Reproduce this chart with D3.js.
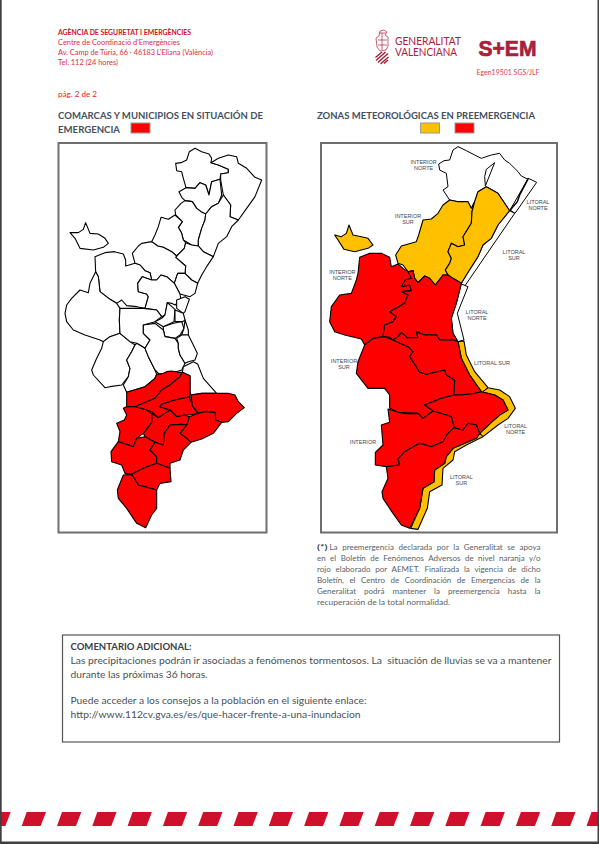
<!DOCTYPE html>
<html>
<head>
<meta charset="utf-8">
<script src="https://cdn.jsdelivr.net/npm/d3@7"></script>
<style>
html, body { margin: 0; padding: 0; background: #fff; }
svg { display: block; }
text { font-family: Lato, "Open Sans", sans-serif; }
</style>
</head>
<body>
<svg id="page"></svg>
<script>
// header texts
var agencyLines = ["AGÈNCIA DE SEGURETAT I EMERGÈNCIES", "Centre de Coordinació d'Emergències",
    "Av. Camp de Túria, 66 · 46183 L'Eliana (València)", "Tel. 112 (24 hores)"];
var pageLabel = "pág. 2 de 2";
var docCode = "Egen19501 SGS/JLF";
var logoLines = ["GENERALITAT", "VALENCIANA"];
var titleLeft = ["COMARCAS Y MUNICIPIOS EN SITUACIÓN DE", "EMERGENCIA"];
var titleRight = "ZONAS METEOROLÓGICAS EN PREEMERGENCIA";
var noteLines = ["La preemergencia declarada por la Generalitat se apoya",
    "en el Boletín de Fenómenos Adversos de nivel naranja y/o",
    "rojo elaborado por AEMET. Finalizada la vigencia de dicho",
    "Boletín, el Centro de Coordinación de Emergencias de la",
    "Generalitat podrá mantener la preemergencia hasta la",
    "recuperación de la total normalidad."];
var commentTitle = "COMENTARIO ADICIONAL:";
var commentLines = ["Las precipitaciones podrán ir asociadas a fenómenos tormentosos. La  situación de lluvias se va a mantener",
    "durante las próximas 36 horas.", "",
    "Puede acceder a los consejos a la población en el siguiente enlace:",
    "http://www.112cv.gva.es/es/que-hacer-frente-a-una-inundacion"];
var stripeIndex = d3.range(-1, 17);

// comarcas in map units (one unit is a third of a page pixel)
var comarcasWhite = [
  [[362,70],[378,68],[395,60],[403,35],[420,25],[440,35],[462,42],[470,55],[468,68],[490,75],[520,88],[520,98],[497,102],[495,118],[470,125],[462,165],[452,135],[435,128],[420,145],[393,143],[385,115],[380,95],[365,92]],
  [[468,68],[490,55],[520,45],[545,50],[550,70],[575,85],[600,112],[620,120],[600,170],[575,205],[550,240],[525,230],[527,195],[505,165],[497,120],[497,102],[520,98],[520,88],[490,75]],
  [[372,155],[393,143],[420,145],[435,128],[452,135],[462,165],[470,125],[495,118],[500,165],[490,190],[470,200],[452,222],[438,215],[425,205],[412,185],[390,182],[380,172]],
  [[360,210],[378,190],[390,182],[412,185],[425,205],[438,215],[452,222],[450,240],[440,265],[430,300],[430,318],[410,315],[385,300],[380,280],[370,262],[382,245],[362,225]],
  [[452,222],[470,200],[490,190],[505,165],[527,195],[525,230],[550,240],[530,260],[515,290],[490,310],[475,350],[445,335],[430,318],[430,300],[440,265],[450,240]],
  [[318,232],[340,238],[360,225],[382,245],[370,262],[380,280],[385,300],[392,308],[388,325],[365,348],[350,335],[325,322],[308,318],[290,305],[300,285],[310,260]],
  [[392,308],[410,315],[430,318],[445,335],[475,350],[455,380],[440,405],[428,430],[410,420],[390,400],[392,378],[362,352],[365,348],[388,325]],
  [[232,340],[250,318],[260,310],[290,305],[308,318],[325,322],[350,335],[365,348],[362,352],[392,378],[390,400],[368,400],[358,430],[335,410],[318,405],[305,420],[290,420],[285,398],[270,392],[255,375],[240,370]],
  [[390,400],[410,420],[428,430],[420,460],[405,470],[375,462],[358,430],[368,400]],
  [[45,278],[70,278],[85,268],[92,248],[105,280],[130,282],[150,295],[160,310],[145,322],[115,330],[75,325],[60,295]],
  [[120,350],[150,338],[178,335],[205,342],[212,360],[212,378],[240,370],[255,375],[270,392],[285,398],[290,420],[262,410],[248,430],[250,455],[275,462],[280,470],[270,505],[245,500],[215,497],[200,480],[185,490],[165,478],[135,455],[130,410],[122,395]],
  [[248,430],[262,410],[290,420],[305,420],[318,405],[335,410],[358,430],[375,462],[378,480],[360,495],[350,490],[337,488],[330,525],[320,530],[305,510],[270,505],[280,470],[275,462],[250,455]],
  [[122,395],[130,410],[135,455],[165,478],[185,490],[195,505],[193,540],[195,580],[165,590],[145,605],[135,600],[90,585],[55,570],[35,545],[30,520],[35,495],[50,475],[75,450],[100,458],[105,430]],
  [[145,605],[165,590],[195,580],[225,605],[240,615],[230,635],[215,660],[225,685],[220,710],[200,735],[165,740],[150,743],[115,705],[110,690],[125,655],[140,625]],
  [[195,505],[265,505],[305,510],[320,530],[300,545],[265,555],[265,580],[285,600],[270,625],[245,610],[225,605],[195,580],[193,540]],
  [[240,615],[245,610],[270,625],[280,650],[300,690],[305,703],[300,715],[270,740],[215,757],[205,735],[220,710],[225,685],[215,660],[230,635]],
  [[365,480],[390,470],[403,478],[390,515],[385,520],[365,505]],
  [[300,545],[320,535],[330,525],[337,488],[360,508],[357,545],[325,560]],
  [[360,510],[385,520],[390,540],[383,545],[360,545]],
  [[325,560],[355,550],[380,545],[387,565],[375,585],[360,595],[330,590],[325,570]],
  [[285,600],[265,580],[265,555],[300,550],[325,570],[330,590],[360,595],[370,610],[370,625],[375,645],[390,670],[385,680],[380,690],[350,700],[315,705],[300,690],[280,650],[270,625]],
  [[390,540],[400,570],[400,585],[380,585],[387,565]],
  [[365,595],[380,585],[400,585],[415,615],[427,640],[420,660],[400,665],[390,670],[375,645],[370,625],[370,610]],
  [[382,697],[385,680],[415,665],[428,672],[445,715],[485,760],[440,760],[408,765],[405,755],[405,707]]
];
var comarcasRed = [
  [[215,757],[270,740],[300,715],[305,703],[325,700],[335,695],[350,693],[370,697],[382,697],[375,710],[345,735],[320,750],[300,775],[240,800],[215,800]],
  [[382,697],[405,707],[405,755],[405,770],[360,780],[320,793],[315,800],[345,810],[330,820],[310,833],[290,815],[275,810],[240,800],[300,775],[320,750],[345,735],[375,710]],
  [[320,793],[360,780],[405,770],[405,775],[412,797],[428,820],[405,825],[390,825],[365,830],[345,810],[315,800]],
  [[408,765],[440,760],[485,760],[520,760],[540,765],[550,785],[568,803],[545,820],[520,845],[500,847],[482,840],[480,817],[450,815],[430,820],[412,797]],
  [[430,820],[450,815],[480,817],[482,840],[500,847],[475,880],[440,897],[408,907],[395,895],[375,880],[395,855],[403,830]],
  [[275,810],[290,820],[290,847],[265,880],[270,890],[300,907],[325,915],[328,880],[345,855],[380,853],[395,855],[403,830],[390,825],[365,830],[345,810],[330,820],[310,833]],
  [[240,800],[275,810],[290,820],[290,847],[265,880],[245,895],[235,920],[205,910],[190,905],[195,875],[185,850],[208,840],[215,825],[205,805],[215,800]],
  [[190,905],[235,920],[245,895],[270,890],[300,907],[285,930],[305,950],[305,970],[265,985],[230,1003],[210,1000],[200,975],[170,965],[168,935]],
  [[300,907],[325,915],[328,880],[345,855],[380,853],[395,855],[375,880],[395,895],[408,907],[385,930],[375,960],[345,970],[345,985],[305,970],[305,950],[285,930]],
  [[230,1003],[265,985],[305,970],[345,985],[348,1025],[315,1030],[305,1050],[280,1043],[250,1035]],
  [[205,1005],[230,1003],[250,1035],[280,1043],[305,1050],[305,1105],[290,1125],[272,1163],[245,1150],[215,1105],[190,1075],[187,1050]]
];

// meteorological zones in map units
var zonesWhite = [
  [[362,72],[378,62],[395,60],[405,30],[420,20],[445,32],[470,45],[490,55],[520,45],[545,40],[560,60],[575,70],[600,95],[610,108],[630,118],[620,140],[600,185],[580,215],[575,212],[540,160],[505,140],[480,155],[470,185],[460,205],[450,185],[420,185],[395,180],[375,150],[390,140],[385,100],[365,90]],
  [[631,115],[656,127],[591,220],[576,210]],
  [[575,212],[590,220],[437,443],[430,430],[445,405],[480,350],[495,315],[520,295],[540,255]],
  [[430,432],[450,440],[418,520],[438,600],[420,605],[405,580],[400,535],[415,490]]
];
var zonesOrange = [
  [[50,285],[70,290],[85,280],[93,255],[105,285],[130,290],[150,295],[165,315],[150,325],[110,335],[78,328],[60,300]],
  [[233,345],[250,318],[295,305],[302,285],[315,240],[340,237],[360,220],[375,195],[395,180],[420,185],[450,185],[460,205],[470,185],[462,215],[460,250],[435,290],[440,315],[420,320],[400,310],[390,335],[400,355],[395,370],[382,390],[390,405],[375,405],[352,435],[335,415],[320,408],[300,428],[290,415],[285,392],[270,395],[255,375],[240,370]],
  [[470,185],[480,155],[505,140],[540,160],[575,212],[540,255],[520,295],[495,315],[480,350],[445,405],[430,430],[405,415],[390,405],[382,390],[395,370],[400,355],[390,335],[400,310],[420,320],[440,315],[435,290],[460,250],[462,215]],
  [[420,605],[438,603],[445,645],[470,695],[510,743],[545,750],[575,770],[592,805],[570,835],[540,855],[495,890],[475,900],[445,915],[410,935],[405,960],[375,985],[372,1035],[335,1055],[328,1105],[300,1168],[278,1165],[305,1105],[315,1045],[348,1025],[350,990],[380,970],[385,950],[405,925],[440,910],[475,895],[485,880],[520,847],[545,825],[570,810],[555,780],[530,765],[490,755],[455,705],[430,655]]
];
var zonesRed = [
  [[125,352],[155,340],[190,340],[215,352],[220,380],[240,372],[255,385],[270,395],[285,392],[280,415],[262,420],[250,440],[275,435],[280,452],[252,455],[270,465],[260,490],[225,510],[215,515],[235,530],[225,545],[200,555],[195,590],[165,595],[140,615],[130,597],[80,585],[50,575],[35,545],[40,500],[65,465],[100,460],[115,420],[120,400]],
  [[270,395],[285,392],[290,415],[300,428],[320,408],[335,415],[352,435],[375,405],[390,405],[405,415],[430,430],[415,490],[400,535],[405,580],[420,605],[405,600],[365,600],[355,585],[320,585],[295,575],[300,593],[265,593],[265,590],[250,578],[240,590],[225,600],[215,592],[195,590],[200,555],[225,545],[235,530],[215,515],[225,510],[260,490],[270,465],[252,455],[280,452],[275,435],[250,440],[262,420],[280,415]],
  [[140,615],[120,665],[115,700],[150,745],[200,745],[215,765],[215,805],[240,817],[300,820],[315,835],[345,813],[320,795],[370,775],[408,765],[410,720],[385,705],[380,690],[365,693],[325,703],[305,697],[295,680],[275,650],[285,635],[270,620],[225,600],[200,590],[165,595]],
  [[225,600],[240,590],[250,578],[265,590],[265,593],[300,593],[295,575],[320,585],[355,585],[365,600],[405,600],[420,605],[430,655],[455,705],[490,755],[470,760],[430,765],[408,765],[410,720],[385,705],[380,690],[365,693],[325,703],[305,697],[295,680],[275,650],[285,635],[270,620]],
  [[320,795],[370,775],[408,765],[430,765],[470,760],[490,755],[530,765],[555,780],[570,810],[545,825],[520,847],[485,880],[475,855],[450,850],[435,870],[410,865],[400,830],[385,825],[345,813]],
  [[210,807],[240,817],[262,821],[300,820],[315,835],[345,813],[385,825],[400,830],[408,863],[390,880],[375,905],[340,920],[305,910],[260,935],[240,957],[245,975],[205,980],[172,975],[172,937],[195,915],[190,855],[215,847]],
  [[205,980],[245,975],[240,957],[260,935],[305,910],[340,920],[375,905],[390,880],[408,863],[435,870],[450,850],[475,855],[485,880],[475,895],[440,910],[405,925],[385,950],[380,970],[350,990],[348,1025],[315,1045],[305,1105],[275,1165],[250,1155],[225,1120],[195,1075],[192,1055],[210,1015]]
];
var zoneDividers = [
  [[495,755],[510,743]],
  [[485,880],[495,890]],
  [[530,68],[505,88],[500,110],[502,138]]
];
var northCoast = [[631,115],[618,140],[605,165],[598,185],[585,200],[576,212]];
var zoneLabels = [
  {lines: ["INTERIOR", "NORTE"], at: [317, 75]},
  {lines: ["INTERIOR", "SUR"], at: [270, 238]},
  {lines: ["INTERIOR", "NORTE"], at: [73, 405]},
  {lines: ["LITORAL", "NORTE"], at: [660, 195]},
  {lines: ["LITORAL", "SUR"], at: [588, 345]},
  {lines: ["LITORAL", "NORTE"], at: [477, 525]},
  {lines: ["LITORAL SUR"], at: [522, 670]},
  {lines: ["INTERIOR", "SUR"], at: [78, 672]},
  {lines: ["INTERIOR"], at: [135, 906]},
  {lines: ["LITORAL", "NORTE"], at: [593, 868]},
  {lines: ["LITORAL", "SUR"], at: [430, 1021]}
];

var RED = "#fe0000", ORANGE = "#ffc000", INK = "#44505f", BRAND = "#a8203a";

var svg = d3.select("#page").attr("width", 599).attr("height", 844);
svg.append("rect").attr("width", 599).attr("height", 844).attr("fill", "#fff");

// fits a line of text to a width on the page
var addText = function(parent, str, x, y, size, color, width, bold)
{
    var t = parent.append("text")
    .attr("x", x)
    .attr("y", y)
    .attr("font-size", size)
    .attr("fill", color)
    .attr("font-weight", bold ? 700 : 400)
    .attr("xml:space", "preserve")
    .text(str);
    if (width) {
        t.attr("textLength", width).attr("lengthAdjust", "spacingAndGlyphs");
    }
    return t;
}

// header
var headerWidths = [133, 122, 155, 60];
var headerY = [35, 45, 55, 64.5];
agencyLines.forEach(function(line, i)
{
    addText(svg, line, 58, headerY[i], 7, i == 0 ? "#d01020" : "#e02c3c", headerWidths[i], i == 0);
});
addText(svg, pageLabel, 58, 97, 8, "#f01818", 39);

// logo: crest, wordmark, S+EM
var crest = svg.append("g").attr("stroke", BRAND).attr("fill", "none").attr("stroke-width", 0.7);
crest.append("path").attr("d", "M380 31 L384 30 L387 32 L385 35 L388 37 L388 46 L386 50 L380 51 L377 47 L376 38 L379 36 Z");
crest.append("path").attr("d", "M378 40 H387 M378 45 H387 M382 33 V50 M379 33 H386");
crest.append("path").attr("d", "M375.5 57.5 L382 52 M376 60.5 L385.5 52 M378 62.5 L388 53.5 M380.5 64 L388.5 57 M384 63.5 L388 60").attr("stroke-width", 1.5);

addText(svg, logoLines[0], 395, 45, 10.5, BRAND, 66);
addText(svg, logoLines[1], 395, 56, 10.5, BRAND, 62);
svg.append("text").attr("x", 478.5).attr("y", 55.5).attr("font-size", 22.5).attr("font-weight", 700)
    .attr("textLength", 58).attr("lengthAdjust", "spacingAndGlyphs")
    .attr("fill", BRAND).attr("stroke", BRAND).attr("stroke-width", 0.7)
    .style("font-family", "'Liberation Sans', Arial, sans-serif").text("S+EM");
addText(svg, docCode, 476.5, 75, 7, "#d8404c", 63);

// section titles and legend swatches
addText(svg, titleLeft[0], 58, 119, 10, INK, 205, true);
addText(svg, titleLeft[1], 58, 133, 10, INK, 62, true);
addText(svg, titleRight, 317, 119, 10, INK, 218, true);

var legendSwatches = [
    {x: 131, fill: RED},
    {x: 420.5, fill: ORANGE},
    {x: 455, fill: RED}
];
svg.selectAll("rect.swatch")
    .data(legendSwatches)
    .enter()
    .append("rect")
    .attr("class", "swatch")
    .attr("x", function(d) { return d.x; })
    .attr("y", 123)
    .attr("width", 19)
    .attr("height", 10)
    .attr("fill", function(d) { return d.fill; })
    .attr("stroke", "#999")
    .attr("stroke-width", 1);

// map frames
var frames = [{x: 58.5, w: 208}, {x: 321, w: 236}];
svg.selectAll("rect.frame")
    .data(frames)
    .enter()
    .append("rect")
    .attr("class", "frame")
    .attr("x", function(d) { return d.x; })
    .attr("y", 143)
    .attr("width", function(d) { return d.w; })
    .attr("height", 389.5)
    .attr("fill", "#fff")
    .attr("stroke", "#6e6e6e")
    .attr("stroke-width", 2);

// scales from map units to the page
var leftX = d3.scaleLinear().domain([0, 645]).range([55, 270]);
var rightX = d3.scaleLinear().domain([0, 675]).range([318, 543]);
var mapY = d3.scaleLinear().domain([0, 1170]).range([140, 530]);

var drawAreas = function(rings, xscale, fill, width)
{
    var line = d3.line()
    .x(function(p) { return xscale(p[0]); })
    .y(function(p) { return mapY(p[1]); });

    svg.append("g")
    .selectAll("path")
    .data(rings)
    .enter()
    .append("path")
    .attr("d", function(d) { return line(d) + "Z"; })
    .attr("fill", fill)
    .attr("stroke", "#000")
    .attr("stroke-width", width)
    .attr("stroke-linejoin", "round");
}

drawAreas(comarcasWhite, leftX, "#fff", 1.1);
drawAreas(comarcasRed, leftX, RED, 1.1);

drawAreas(zonesWhite, rightX, "#fff", 1);
drawAreas(zonesOrange, rightX, ORANGE, 1.1);
drawAreas(zonesRed, rightX, RED, 1.1);
drawAreas(zoneDividers, rightX, "none", 1);

// thick coast line of the northern strip
svg.append("path")
    .attr("d", d3.line()
        .x(function(p) { return rightX(p[0]); })
        .y(function(p) { return mapY(p[1]); })(northCoast))
    .attr("fill", "none")
    .attr("stroke", "#000")
    .attr("stroke-width", 1.5);

// zone labels
zoneLabels.forEach(function(label)
{
    label.lines.forEach(function(str, i)
    {
        svg.append("text")
        .attr("x", rightX(label.at[0]))
        .attr("y", mapY(label.at[1]) + 2 + (i - (label.lines.length - 1) / 2) * 6)
        .attr("text-anchor", "middle")
        .attr("font-size", 5.5)
        .attr("fill", "#3c4654")
        .style("font-family", "'Liberation Sans', Arial, sans-serif")
        .text(str);
    });
});

// footnote, justified with word spacing
var noteBaseline = d3.scaleLinear().domain([0, 5]).range([550, 605]);
noteLines.forEach(function(str, i)
{
    var startX = i == 0 ? 329.5 : 317;
    var t = addText(svg, str, startX, noteBaseline(i), 8, "#5a5f66");
    if (i < noteLines.length - 1) {
        var gaps = str.split(" ").length - 1;
        var len = t.node().getComputedTextLength();
        var room = 540.5 - startX;
        t.attr("font-size", 8 * Math.min(1, (room - gaps * 1.2) / len));
        len = t.node().getComputedTextLength();
        t.attr("word-spacing", (room - len) / gaps);
    } else {
        t.attr("textLength", 133).attr("lengthAdjust", "spacingAndGlyphs");
    }
});
addText(svg, "(*)", 317, noteBaseline(0), 8, "#3a3f46", 10.5, true);

// comment box
svg.append("rect")
    .attr("x", 62.5)
    .attr("y", 635)
    .attr("width", 497)
    .attr("height", 107)
    .attr("fill", "#fff")
    .attr("stroke", "#555")
    .attr("stroke-width", 1.2);

addText(svg, commentTitle, 70.5, 650, 10, "#3a4048", 121, true);
var commentY = [664, 678, 0, 704, 718];
var commentWidths = [481, 137, 0, 296, 290];
commentLines.forEach(function(str, i)
{
    if (str) {
        addText(svg, str, 70.5, commentY[i], 10, "#4a4f57", commentWidths[i]);
    }
});

// red stripes along the foot of the page
var stripeX = d3.scaleLinear().domain([0, 1]).range([21.7, 57]);
svg.append("g")
    .selectAll("path")
    .data(stripeIndex)
    .enter()
    .append("path")
    .attr("d", function(d)
    {
        var x0 = stripeX(d);
        return "M" + x0 + " 826 L" + (x0 + 19) + " 826 L" + (x0 + 24.3) + " 812 L" + (x0 + 5) + " 812 Z";
    })
    .attr("fill", "#cf102d");

// page edge
svg.append("rect").attr("x", 0).attr("y", 0).attr("width", 1.7).attr("height", 844).attr("fill", "#404040");
svg.append("rect").attr("x", 597.5).attr("y", 0).attr("width", 1.5).attr("height", 844).attr("fill", "#404040");
svg.append("rect").attr("x", 0).attr("y", 841.5).attr("width", 599).attr("height", 2.5).attr("fill", "#404040");
</script>
</body>
</html>
